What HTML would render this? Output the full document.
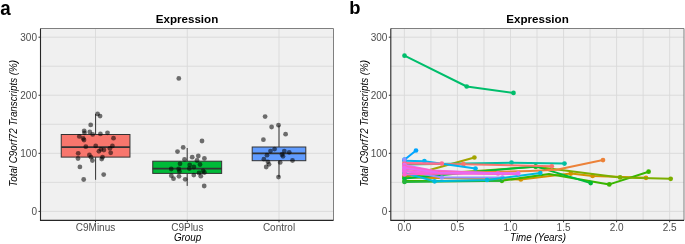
<!DOCTYPE html>
<html><head><meta charset="utf-8"><style>
html,body{margin:0;padding:0;background:#fff;}
svg{display:block;will-change:transform;}
text{font-family:"Liberation Sans",sans-serif;}
</style></head><body>
<svg width="685" height="244" viewBox="0 0 685 244">
<rect width="685" height="244" fill="#fff"/>
<rect x="40.5" y="28.5" width="293.0" height="191.9" fill="#F0F0F0"/>
<line x1="40.5" x2="333.5" y1="211.40" y2="211.40" stroke="#D9D9D9" stroke-width="0.9"/>
<line x1="40.5" x2="333.5" y1="153.33" y2="153.33" stroke="#D9D9D9" stroke-width="0.9"/>
<line x1="40.5" x2="333.5" y1="95.26" y2="95.26" stroke="#D9D9D9" stroke-width="0.9"/>
<line x1="40.5" x2="333.5" y1="37.19" y2="37.19" stroke="#D9D9D9" stroke-width="0.9"/>
<line x1="40.5" x2="333.5" y1="182.37" y2="182.37" stroke="#D9D9D9" stroke-width="0.9"/>
<line x1="40.5" x2="333.5" y1="124.30" y2="124.30" stroke="#D9D9D9" stroke-width="0.9"/>
<line x1="40.5" x2="333.5" y1="66.22" y2="66.22" stroke="#D9D9D9" stroke-width="0.9"/>
<line y1="28.5" y2="220.4" x1="95.50" x2="95.50" stroke="#D9D9D9" stroke-width="0.9"/>
<line y1="28.5" y2="220.4" x1="187.30" x2="187.30" stroke="#D9D9D9" stroke-width="0.9"/>
<line y1="28.5" y2="220.4" x1="279.00" x2="279.00" stroke="#D9D9D9" stroke-width="0.9"/>
<line x1="95.6" x2="95.6" y1="113.9" y2="134.5" stroke="#333" stroke-width="1"/>
<line x1="95.6" x2="95.6" y1="157.1" y2="179.8" stroke="#333" stroke-width="1"/>
<rect x="61.24999999999999" y="134.5" width="68.7" height="22.599999999999994" fill="#F8766D" stroke="#333" stroke-width="1"/>
<line x1="61.24999999999999" x2="129.95" y1="147.1" y2="147.1" stroke="#333" stroke-width="1.6"/>
<line x1="187.2" x2="187.2" y1="148.0" y2="161.2" stroke="#333" stroke-width="1"/>
<line x1="187.2" x2="187.2" y1="173.4" y2="185.9" stroke="#333" stroke-width="1"/>
<rect x="152.75" y="161.2" width="68.9" height="12.200000000000017" fill="#00BA38" stroke="#333" stroke-width="1"/>
<line x1="152.75" x2="221.64999999999998" y1="168.6" y2="168.6" stroke="#333" stroke-width="1.6"/>
<line x1="279.0" x2="279.0" y1="125.4" y2="147.0" stroke="#333" stroke-width="1"/>
<line x1="279.0" x2="279.0" y1="160.7" y2="177.1" stroke="#333" stroke-width="1"/>
<rect x="252.2" y="147.0" width="53.6" height="13.699999999999989" fill="#619CFF" stroke="#333" stroke-width="1"/>
<line x1="252.2" x2="305.8" y1="153.4" y2="153.4" stroke="#333" stroke-width="1.6"/>
<circle cx="97.6" cy="113.9" r="2.4" fill="#000" fill-opacity="0.55"/>
<circle cx="100.1" cy="116.1" r="2.4" fill="#000" fill-opacity="0.55"/>
<circle cx="90.7" cy="124.9" r="2.4" fill="#000" fill-opacity="0.55"/>
<circle cx="84.2" cy="130.8" r="2.4" fill="#000" fill-opacity="0.55"/>
<circle cx="84.5" cy="132.8" r="2.4" fill="#000" fill-opacity="0.55"/>
<circle cx="89.8" cy="132.0" r="2.4" fill="#000" fill-opacity="0.55"/>
<circle cx="92.7" cy="134.4" r="2.4" fill="#000" fill-opacity="0.55"/>
<circle cx="100.4" cy="133.9" r="2.4" fill="#000" fill-opacity="0.55"/>
<circle cx="107.5" cy="132.8" r="2.4" fill="#000" fill-opacity="0.55"/>
<circle cx="79.3" cy="136.4" r="2.4" fill="#000" fill-opacity="0.55"/>
<circle cx="83.2" cy="138.5" r="2.4" fill="#000" fill-opacity="0.55"/>
<circle cx="84.0" cy="140.0" r="2.4" fill="#000" fill-opacity="0.55"/>
<circle cx="113.5" cy="138.2" r="2.4" fill="#000" fill-opacity="0.55"/>
<circle cx="85.8" cy="146.7" r="2.4" fill="#000" fill-opacity="0.55"/>
<circle cx="95.7" cy="145.9" r="2.4" fill="#000" fill-opacity="0.55"/>
<circle cx="100.9" cy="149.3" r="2.4" fill="#000" fill-opacity="0.55"/>
<circle cx="98.9" cy="151.3" r="2.4" fill="#000" fill-opacity="0.55"/>
<circle cx="103.9" cy="150.0" r="2.4" fill="#000" fill-opacity="0.55"/>
<circle cx="109.9" cy="148.4" r="2.4" fill="#000" fill-opacity="0.55"/>
<circle cx="112.4" cy="145.9" r="2.4" fill="#000" fill-opacity="0.55"/>
<circle cx="110.7" cy="152.8" r="2.4" fill="#000" fill-opacity="0.55"/>
<circle cx="78.2" cy="153.3" r="2.4" fill="#000" fill-opacity="0.55"/>
<circle cx="89.4" cy="154.9" r="2.4" fill="#000" fill-opacity="0.55"/>
<circle cx="91.0" cy="157.2" r="2.4" fill="#000" fill-opacity="0.55"/>
<circle cx="92.4" cy="160.5" r="2.4" fill="#000" fill-opacity="0.55"/>
<circle cx="78.0" cy="158.5" r="2.4" fill="#000" fill-opacity="0.55"/>
<circle cx="102.5" cy="157.2" r="2.4" fill="#000" fill-opacity="0.55"/>
<circle cx="101.7" cy="159.1" r="2.4" fill="#000" fill-opacity="0.55"/>
<circle cx="79.9" cy="166.9" r="2.4" fill="#000" fill-opacity="0.55"/>
<circle cx="103.7" cy="174.6" r="2.4" fill="#000" fill-opacity="0.55"/>
<circle cx="83.7" cy="179.5" r="2.4" fill="#000" fill-opacity="0.55"/>
<circle cx="178.8" cy="78.4" r="2.4" fill="#000" fill-opacity="0.55"/>
<circle cx="202.0" cy="141.0" r="2.4" fill="#000" fill-opacity="0.55"/>
<circle cx="183.2" cy="147.4" r="2.4" fill="#000" fill-opacity="0.55"/>
<circle cx="177.5" cy="151.6" r="2.4" fill="#000" fill-opacity="0.55"/>
<circle cx="184.5" cy="159.4" r="2.4" fill="#000" fill-opacity="0.55"/>
<circle cx="192.2" cy="157.2" r="2.4" fill="#000" fill-opacity="0.55"/>
<circle cx="198.3" cy="156.0" r="2.4" fill="#000" fill-opacity="0.55"/>
<circle cx="204.4" cy="158.4" r="2.4" fill="#000" fill-opacity="0.55"/>
<circle cx="197.0" cy="160.5" r="2.4" fill="#000" fill-opacity="0.55"/>
<circle cx="180.0" cy="163.8" r="2.4" fill="#000" fill-opacity="0.55"/>
<circle cx="189.7" cy="164.9" r="2.4" fill="#000" fill-opacity="0.55"/>
<circle cx="200.0" cy="164.5" r="2.4" fill="#000" fill-opacity="0.55"/>
<circle cx="171.2" cy="169.0" r="2.4" fill="#000" fill-opacity="0.55"/>
<circle cx="178.7" cy="169.0" r="2.4" fill="#000" fill-opacity="0.55"/>
<circle cx="189.3" cy="168.6" r="2.4" fill="#000" fill-opacity="0.55"/>
<circle cx="193.9" cy="167.0" r="2.4" fill="#000" fill-opacity="0.55"/>
<circle cx="203.1" cy="170.8" r="2.4" fill="#000" fill-opacity="0.55"/>
<circle cx="204.4" cy="172.5" r="2.4" fill="#000" fill-opacity="0.55"/>
<circle cx="179.4" cy="171.4" r="2.4" fill="#000" fill-opacity="0.55"/>
<circle cx="171.3" cy="175.7" r="2.4" fill="#000" fill-opacity="0.55"/>
<circle cx="173.5" cy="178.7" r="2.4" fill="#000" fill-opacity="0.55"/>
<circle cx="179.0" cy="176.3" r="2.4" fill="#000" fill-opacity="0.55"/>
<circle cx="185.2" cy="179.3" r="2.4" fill="#000" fill-opacity="0.55"/>
<circle cx="193.8" cy="175.1" r="2.4" fill="#000" fill-opacity="0.55"/>
<circle cx="200.8" cy="176.2" r="2.4" fill="#000" fill-opacity="0.55"/>
<circle cx="199.0" cy="173.0" r="2.4" fill="#000" fill-opacity="0.55"/>
<circle cx="204.2" cy="186.0" r="2.4" fill="#000" fill-opacity="0.55"/>
<circle cx="265.1" cy="116.6" r="2.4" fill="#000" fill-opacity="0.55"/>
<circle cx="271.6" cy="127.0" r="2.4" fill="#000" fill-opacity="0.55"/>
<circle cx="278.5" cy="125.2" r="2.4" fill="#000" fill-opacity="0.55"/>
<circle cx="285.6" cy="134.2" r="2.4" fill="#000" fill-opacity="0.55"/>
<circle cx="263.4" cy="139.7" r="2.4" fill="#000" fill-opacity="0.55"/>
<circle cx="274.6" cy="149.1" r="2.4" fill="#000" fill-opacity="0.55"/>
<circle cx="270.5" cy="151.1" r="2.4" fill="#000" fill-opacity="0.55"/>
<circle cx="284.3" cy="151.1" r="2.4" fill="#000" fill-opacity="0.55"/>
<circle cx="289.2" cy="152.3" r="2.4" fill="#000" fill-opacity="0.55"/>
<circle cx="267.0" cy="155.2" r="2.4" fill="#000" fill-opacity="0.55"/>
<circle cx="282.0" cy="154.5" r="2.4" fill="#000" fill-opacity="0.55"/>
<circle cx="283.0" cy="156.3" r="2.4" fill="#000" fill-opacity="0.55"/>
<circle cx="263.9" cy="159.2" r="2.4" fill="#000" fill-opacity="0.55"/>
<circle cx="267.9" cy="161.8" r="2.4" fill="#000" fill-opacity="0.55"/>
<circle cx="280.2" cy="162.4" r="2.4" fill="#000" fill-opacity="0.55"/>
<circle cx="292.5" cy="160.5" r="2.4" fill="#000" fill-opacity="0.55"/>
<circle cx="269.0" cy="164.3" r="2.4" fill="#000" fill-opacity="0.55"/>
<circle cx="266.2" cy="167.0" r="2.4" fill="#000" fill-opacity="0.55"/>
<circle cx="278.5" cy="177.1" r="2.4" fill="#000" fill-opacity="0.55"/>
<polyline points="40.5,28.5 333.5,28.5 333.5,220.4" fill="none" stroke="#7F7F7F" stroke-width="1"/>
<polyline points="40.5,28.5 40.5,220.4 333.5,220.4" fill="none" stroke="#262626" stroke-width="1.1"/>
<rect x="390.8" y="28.5" width="293.2" height="191.9" fill="#F0F0F0"/>
<line x1="390.8" x2="684.0" y1="211.40" y2="211.40" stroke="#D9D9D9" stroke-width="0.9"/>
<line x1="390.8" x2="684.0" y1="153.33" y2="153.33" stroke="#D9D9D9" stroke-width="0.9"/>
<line x1="390.8" x2="684.0" y1="95.26" y2="95.26" stroke="#D9D9D9" stroke-width="0.9"/>
<line x1="390.8" x2="684.0" y1="37.19" y2="37.19" stroke="#D9D9D9" stroke-width="0.9"/>
<line x1="390.8" x2="684.0" y1="182.37" y2="182.37" stroke="#D9D9D9" stroke-width="0.9"/>
<line x1="390.8" x2="684.0" y1="124.30" y2="124.30" stroke="#D9D9D9" stroke-width="0.9"/>
<line x1="390.8" x2="684.0" y1="66.22" y2="66.22" stroke="#D9D9D9" stroke-width="0.9"/>
<line y1="28.5" y2="220.4" x1="404.40" x2="404.40" stroke="#D9D9D9" stroke-width="0.9"/>
<line y1="28.5" y2="220.4" x1="457.45" x2="457.45" stroke="#D9D9D9" stroke-width="0.9"/>
<line y1="28.5" y2="220.4" x1="510.50" x2="510.50" stroke="#D9D9D9" stroke-width="0.9"/>
<line y1="28.5" y2="220.4" x1="563.55" x2="563.55" stroke="#D9D9D9" stroke-width="0.9"/>
<line y1="28.5" y2="220.4" x1="616.60" x2="616.60" stroke="#D9D9D9" stroke-width="0.9"/>
<line y1="28.5" y2="220.4" x1="669.65" x2="669.65" stroke="#D9D9D9" stroke-width="0.9"/>
<line y1="28.5" y2="220.4" x1="430.92" x2="430.92" stroke="#D9D9D9" stroke-width="0.9"/>
<line y1="28.5" y2="220.4" x1="483.97" x2="483.97" stroke="#D9D9D9" stroke-width="0.9"/>
<line y1="28.5" y2="220.4" x1="537.02" x2="537.02" stroke="#D9D9D9" stroke-width="0.9"/>
<line y1="28.5" y2="220.4" x1="590.07" x2="590.07" stroke="#D9D9D9" stroke-width="0.9"/>
<line y1="28.5" y2="220.4" x1="643.12" x2="643.12" stroke="#D9D9D9" stroke-width="0.9"/>
<polyline points="404.5,55.7 466.7,86.5 513.5,92.9" fill="none" stroke="#00BE6C" stroke-width="2" stroke-linejoin="round" stroke-linecap="round"/>
<circle cx="404.5" cy="55.7" r="2.35" fill="#00BE6C"/>
<circle cx="466.7" cy="86.5" r="2.35" fill="#00BE6C"/>
<circle cx="513.5" cy="92.9" r="2.35" fill="#00BE6C"/>
<polyline points="404.5,177.0 474.4,157.5" fill="none" stroke="#A3A500" stroke-width="2" stroke-linejoin="round" stroke-linecap="round"/>
<circle cx="404.5" cy="177.0" r="2.35" fill="#A3A500"/>
<circle cx="474.4" cy="157.5" r="2.35" fill="#A3A500"/>
<polyline points="404.5,177.5 520.8,179.4 570.8,173.6 592.6,175.9 646.0,177.8" fill="none" stroke="#D39200" stroke-width="2" stroke-linejoin="round" stroke-linecap="round"/>
<circle cx="404.5" cy="177.5" r="2.35" fill="#D39200"/>
<circle cx="520.8" cy="179.4" r="2.35" fill="#D39200"/>
<circle cx="570.8" cy="173.6" r="2.35" fill="#D39200"/>
<circle cx="592.6" cy="175.9" r="2.35" fill="#D39200"/>
<circle cx="646.0" cy="177.8" r="2.35" fill="#D39200"/>
<polyline points="404.5,181.0 501.9,180.8 549.0,174.0 609.3,184.4 648.6,171.7" fill="none" stroke="#39B600" stroke-width="2" stroke-linejoin="round" stroke-linecap="round"/>
<circle cx="404.5" cy="181.0" r="2.35" fill="#39B600"/>
<circle cx="501.9" cy="180.8" r="2.35" fill="#39B600"/>
<circle cx="609.3" cy="184.4" r="2.35" fill="#39B600"/>
<circle cx="648.6" cy="171.7" r="2.35" fill="#39B600"/>
<polyline points="404.5,176.0 535.7,166.8 620.1,177.4 670.7,178.8" fill="none" stroke="#7CAE00" stroke-width="2" stroke-linejoin="round" stroke-linecap="round"/>
<circle cx="404.5" cy="176.0" r="2.35" fill="#7CAE00"/>
<circle cx="535.7" cy="166.8" r="2.35" fill="#7CAE00"/>
<circle cx="620.1" cy="177.4" r="2.35" fill="#7CAE00"/>
<circle cx="670.7" cy="178.8" r="2.35" fill="#7CAE00"/>
<polyline points="404.5,178.5 535.7,166.4 590.7,183.1" fill="none" stroke="#00BA38" stroke-width="2" stroke-linejoin="round" stroke-linecap="round"/>
<circle cx="404.5" cy="178.5" r="2.35" fill="#00BA38"/>
<circle cx="535.7" cy="166.4" r="2.35" fill="#00BA38"/>
<circle cx="590.7" cy="183.1" r="2.35" fill="#00BA38"/>
<polyline points="404.5,174.0 530,171.0 556.6,169.8 603.0,160.1" fill="none" stroke="#EC8239" stroke-width="2" stroke-linejoin="round" stroke-linecap="round"/>
<circle cx="404.5" cy="174.0" r="2.35" fill="#EC8239"/>
<circle cx="603.0" cy="160.1" r="2.35" fill="#EC8239"/>
<polyline points="404.5,164.5 511.5,162.7 564.5,163.6" fill="none" stroke="#00BFA0" stroke-width="2" stroke-linejoin="round" stroke-linecap="round"/>
<circle cx="404.5" cy="164.5" r="2.35" fill="#00BFA0"/>
<circle cx="511.5" cy="162.7" r="2.35" fill="#00BFA0"/>
<circle cx="564.5" cy="163.6" r="2.35" fill="#00BFA0"/>
<polyline points="404.5,163.5 463.4,164.2 551.8,166.3" fill="none" stroke="#F8766D" stroke-width="2" stroke-linejoin="round" stroke-linecap="round"/>
<circle cx="404.5" cy="163.5" r="2.35" fill="#F8766D"/>
<circle cx="463.4" cy="164.2" r="2.35" fill="#F8766D"/>
<circle cx="551.8" cy="166.3" r="2.35" fill="#F8766D"/>
<polyline points="404.5,160.7 424.4,161.2 475.5,168.5" fill="none" stroke="#00B4F0" stroke-width="2" stroke-linejoin="round" stroke-linecap="round"/>
<circle cx="404.5" cy="160.7" r="2.35" fill="#00B4F0"/>
<circle cx="424.4" cy="161.2" r="2.35" fill="#00B4F0"/>
<circle cx="475.5" cy="168.5" r="2.35" fill="#00B4F0"/>
<polyline points="404.5,159.7 416.0,150.5" fill="none" stroke="#00A5FF" stroke-width="2" stroke-linejoin="round" stroke-linecap="round"/>
<circle cx="404.5" cy="159.7" r="2.35" fill="#00A5FF"/>
<circle cx="416.0" cy="150.5" r="2.35" fill="#00A5FF"/>
<polyline points="404.5,170.5 441.8,177.5 502.5,177.5" fill="none" stroke="#9590FF" stroke-width="2" stroke-linejoin="round" stroke-linecap="round"/>
<circle cx="404.5" cy="170.5" r="2.35" fill="#9590FF"/>
<circle cx="441.8" cy="177.5" r="2.35" fill="#9590FF"/>
<circle cx="502.5" cy="177.5" r="2.35" fill="#9590FF"/>
<polyline points="404.5,182.0 501.9,180.8" fill="none" stroke="#24B43A" stroke-width="2" stroke-linejoin="round" stroke-linecap="round"/>
<circle cx="404.5" cy="182.0" r="2.35" fill="#24B43A"/>
<polyline points="404.5,163.0 441.8,163.6" fill="none" stroke="#FF6C91" stroke-width="2" stroke-linejoin="round" stroke-linecap="round"/>
<circle cx="404.5" cy="163.0" r="2.35" fill="#FF6C91"/>
<circle cx="441.8" cy="163.6" r="2.35" fill="#FF6C91"/>
<polyline points="404.5,173.0 434.6,181.3 487.0,180.0 540.3,173.0" fill="none" stroke="#00BBDB" stroke-width="2" stroke-linejoin="round" stroke-linecap="round"/>
<circle cx="404.5" cy="173.0" r="2.35" fill="#00BBDB"/>
<circle cx="434.6" cy="181.3" r="2.35" fill="#00BBDB"/>
<circle cx="487.0" cy="180.0" r="2.35" fill="#00BBDB"/>
<circle cx="540.3" cy="173.0" r="2.35" fill="#00BBDB"/>
<polyline points="404.5,165.0 432,170.5 498.0,173.4" fill="none" stroke="#DB72FB" stroke-width="2" stroke-linejoin="round" stroke-linecap="round"/>
<circle cx="404.5" cy="165.0" r="2.35" fill="#DB72FB"/>
<polyline points="404.5,166.5 435,171.0 498.0,173.4" fill="none" stroke="#FF61C3" stroke-width="2" stroke-linejoin="round" stroke-linecap="round"/>
<circle cx="404.5" cy="166.5" r="2.35" fill="#FF61C3"/>
<circle cx="498.0" cy="173.4" r="2.35" fill="#FF61C3"/>
<polyline points="404.5,169.0 433,172.0 498.0,173.6" fill="none" stroke="#FF67A4" stroke-width="2" stroke-linejoin="round" stroke-linecap="round"/>
<circle cx="404.5" cy="169.0" r="2.35" fill="#FF67A4"/>
<polyline points="404.5,171.5 436,173.0 518.2,173.6" fill="none" stroke="#F564E3" stroke-width="2" stroke-linejoin="round" stroke-linecap="round"/>
<circle cx="404.5" cy="171.5" r="2.35" fill="#F564E3"/>
<polyline points="404.5,174.5 434,173.5 518.2,174.0" fill="none" stroke="#FD61D1" stroke-width="2" stroke-linejoin="round" stroke-linecap="round"/>
<circle cx="404.5" cy="174.5" r="2.35" fill="#FD61D1"/>
<polyline points="404.5,168.0 438,172.5 518.2,173.4" fill="none" stroke="#E76BF3" stroke-width="2" stroke-linejoin="round" stroke-linecap="round"/>
<circle cx="404.5" cy="168.0" r="2.35" fill="#E76BF3"/>
<circle cx="518.2" cy="173.4" r="2.35" fill="#E76BF3"/>
<circle cx="404.5" cy="159.6" r="2.2" fill="#8F91FF"/>
<polyline points="390.8,28.5 684.0,28.5 684.0,220.4" fill="none" stroke="#7F7F7F" stroke-width="1"/>
<polyline points="390.8,28.5 390.8,220.4 684.0,220.4" fill="none" stroke="#262626" stroke-width="1.1"/>
<text x="0.3" y="0" font-size="18.8" text-anchor="start" font-weight="bold" font-style="normal" fill="#000" transform="translate(0,14.7) scale(1,1.1)">a</text>
<text x="349.3" y="13.9" font-size="18.4" text-anchor="start" font-weight="bold" font-style="normal" fill="#000" >b</text>
<text x="187.0" y="22.8" font-size="11.6" text-anchor="middle" font-weight="bold" font-style="normal" fill="#000" >Expression</text>
<text x="537.5" y="22.8" font-size="11.6" text-anchor="middle" font-weight="bold" font-style="normal" fill="#000" >Expression</text>
<text x="37.0" y="214.9" font-size="10.0" text-anchor="end" font-weight="normal" font-style="normal" fill="#4D4D4D" >0</text>
<line x1="38.5" x2="40.5" y1="211.40" y2="211.40" stroke="#333" stroke-width="1"/>
<text x="37.0" y="156.83" font-size="10.0" text-anchor="end" font-weight="normal" font-style="normal" fill="#4D4D4D" >100</text>
<line x1="38.5" x2="40.5" y1="153.33" y2="153.33" stroke="#333" stroke-width="1"/>
<text x="37.0" y="98.76" font-size="10.0" text-anchor="end" font-weight="normal" font-style="normal" fill="#4D4D4D" >200</text>
<line x1="38.5" x2="40.5" y1="95.26" y2="95.26" stroke="#333" stroke-width="1"/>
<text x="37.0" y="40.69" font-size="10.0" text-anchor="end" font-weight="normal" font-style="normal" fill="#4D4D4D" >300</text>
<line x1="38.5" x2="40.5" y1="37.19" y2="37.19" stroke="#333" stroke-width="1"/>
<text x="387.4" y="214.9" font-size="10.0" text-anchor="end" font-weight="normal" font-style="normal" fill="#4D4D4D" >0</text>
<line x1="388.8" x2="390.8" y1="211.40" y2="211.40" stroke="#333" stroke-width="1"/>
<text x="387.4" y="156.83" font-size="10.0" text-anchor="end" font-weight="normal" font-style="normal" fill="#4D4D4D" >100</text>
<line x1="388.8" x2="390.8" y1="153.33" y2="153.33" stroke="#333" stroke-width="1"/>
<text x="387.4" y="98.76" font-size="10.0" text-anchor="end" font-weight="normal" font-style="normal" fill="#4D4D4D" >200</text>
<line x1="388.8" x2="390.8" y1="95.26" y2="95.26" stroke="#333" stroke-width="1"/>
<text x="387.4" y="40.69" font-size="10.0" text-anchor="end" font-weight="normal" font-style="normal" fill="#4D4D4D" >300</text>
<line x1="388.8" x2="390.8" y1="37.19" y2="37.19" stroke="#333" stroke-width="1"/>
<text x="95.5" y="230.8" font-size="10.0" text-anchor="middle" font-weight="normal" font-style="normal" fill="#4D4D4D" >C9Minus</text>
<line x1="95.5" x2="95.5" y1="220.3" y2="222.3" stroke="#333" stroke-width="1"/>
<text x="187.3" y="230.8" font-size="10.0" text-anchor="middle" font-weight="normal" font-style="normal" fill="#4D4D4D" >C9Plus</text>
<line x1="187.3" x2="187.3" y1="220.3" y2="222.3" stroke="#333" stroke-width="1"/>
<text x="279.0" y="230.8" font-size="10.0" text-anchor="middle" font-weight="normal" font-style="normal" fill="#4D4D4D" >Control</text>
<line x1="279.0" x2="279.0" y1="220.3" y2="222.3" stroke="#333" stroke-width="1"/>
<text x="404.4" y="230.8" font-size="10.0" text-anchor="middle" font-weight="normal" font-style="normal" fill="#4D4D4D" >0.0</text>
<line x1="404.40" x2="404.40" y1="220.3" y2="222.3" stroke="#333" stroke-width="1"/>
<text x="457.45" y="230.8" font-size="10.0" text-anchor="middle" font-weight="normal" font-style="normal" fill="#4D4D4D" >0.5</text>
<line x1="457.45" x2="457.45" y1="220.3" y2="222.3" stroke="#333" stroke-width="1"/>
<text x="510.5" y="230.8" font-size="10.0" text-anchor="middle" font-weight="normal" font-style="normal" fill="#4D4D4D" >1.0</text>
<line x1="510.50" x2="510.50" y1="220.3" y2="222.3" stroke="#333" stroke-width="1"/>
<text x="563.55" y="230.8" font-size="10.0" text-anchor="middle" font-weight="normal" font-style="normal" fill="#4D4D4D" >1.5</text>
<line x1="563.55" x2="563.55" y1="220.3" y2="222.3" stroke="#333" stroke-width="1"/>
<text x="616.5999999999999" y="230.8" font-size="10.0" text-anchor="middle" font-weight="normal" font-style="normal" fill="#4D4D4D" >2.0</text>
<line x1="616.60" x2="616.60" y1="220.3" y2="222.3" stroke="#333" stroke-width="1"/>
<text x="669.65" y="230.8" font-size="10.0" text-anchor="middle" font-weight="normal" font-style="normal" fill="#4D4D4D" >2.5</text>
<line x1="669.65" x2="669.65" y1="220.3" y2="222.3" stroke="#333" stroke-width="1"/>
<text x="187.6" y="240.9" font-size="10.8" text-anchor="middle" font-weight="normal" font-style="italic" fill="#000" textLength="27.4" lengthAdjust="spacingAndGlyphs">Group</text>
<text x="538.0" y="240.9" font-size="10.8" text-anchor="middle" font-weight="normal" font-style="italic" fill="#000" textLength="56.0" lengthAdjust="spacingAndGlyphs">Time (Years)</text>
<text x="0" y="0" font-size="10.8" text-anchor="middle" font-weight="normal" font-style="italic" fill="#000" textLength="126.9" lengthAdjust="spacingAndGlyphs" transform="translate(17.3,123.4) rotate(-90)">Total C9orf72 Transcripts (%)</text>
<text x="0" y="0" font-size="10.8" text-anchor="middle" font-weight="normal" font-style="italic" fill="#000" textLength="126.9" lengthAdjust="spacingAndGlyphs" transform="translate(368.0,123.4) rotate(-90)">Total C9orf72 Transcripts (%)</text>
</svg>
</body></html>
